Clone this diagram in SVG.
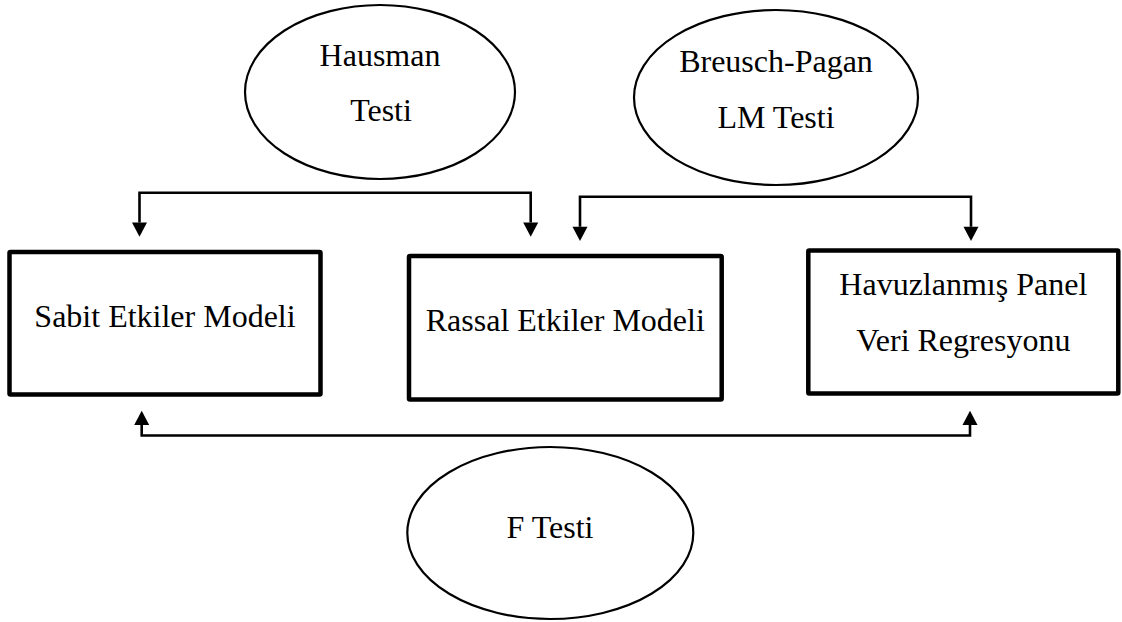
<svg xmlns="http://www.w3.org/2000/svg" width="1122" height="622" viewBox="0 0 1122 622">
<style>
.box{fill:#fff;stroke:#000;stroke-width:4.5}
.ell{fill:#fff;stroke:#000;stroke-width:2.2}
.conn{fill:none;stroke:#000;stroke-width:2.6;marker-start:url(#ah);marker-end:url(#ah)}
text{font-family:"Liberation Serif","Times New Roman",serif;font-size:32px;fill:#000;text-anchor:middle}
</style>
<defs>
<marker id="ah" markerUnits="userSpaceOnUse" markerWidth="15" markerHeight="16" refX="0" refY="7.5" orient="auto-start-reverse" overflow="visible">
<path d="M0,0 L14.3,7.5 L0,15 Z" fill="#000"/>
</marker>
</defs>
<rect width="1122" height="622" fill="#fff"/>
<g id="connectors">
<path class="conn" d="M139.5,222.5 V192.7 H530.7 V222.5"/>
<path class="conn" d="M580,226.8 V196.7 H971 V226.8"/>
<path class="conn" d="M141.7,425 V435.5 H970 V425"/>
</g>
<g id="hausman">
<ellipse class="ell" cx="380" cy="92" rx="135" ry="87"/>
<text x="380" y="65.7">Hausman</text>
<text x="381" y="121">Testi</text>
</g>
<g id="breusch">
<ellipse class="ell" cx="776" cy="97.5" rx="142" ry="87.5"/>
<text x="776" y="71.7">Breusch-Pagan</text>
<text x="776" y="127.7">LM Testi</text>
</g>
<g id="sabit">
<rect class="box" x="9.5" y="252" width="311" height="142.5" rx="1"/>
<text x="165" y="327">Sabit Etkiler Modeli</text>
</g>
<g id="rassal">
<rect class="box" x="409" y="256" width="312.7" height="143.5" rx="1"/>
<text x="565.3" y="330.7">Rassal Etkiler Modeli</text>
</g>
<g id="havuz">
<rect class="box" x="808.3" y="250.5" width="310" height="143" rx="1"/>
<text x="963.3" y="295">Havuzlanmış Panel</text>
<text x="963.3" y="351">Veri Regresyonu</text>
</g>
<g id="ftest">
<ellipse class="ell" cx="550.3" cy="533" rx="143" ry="86"/>
<text x="550" y="538.3">F Testi</text>
</g>
</svg>
